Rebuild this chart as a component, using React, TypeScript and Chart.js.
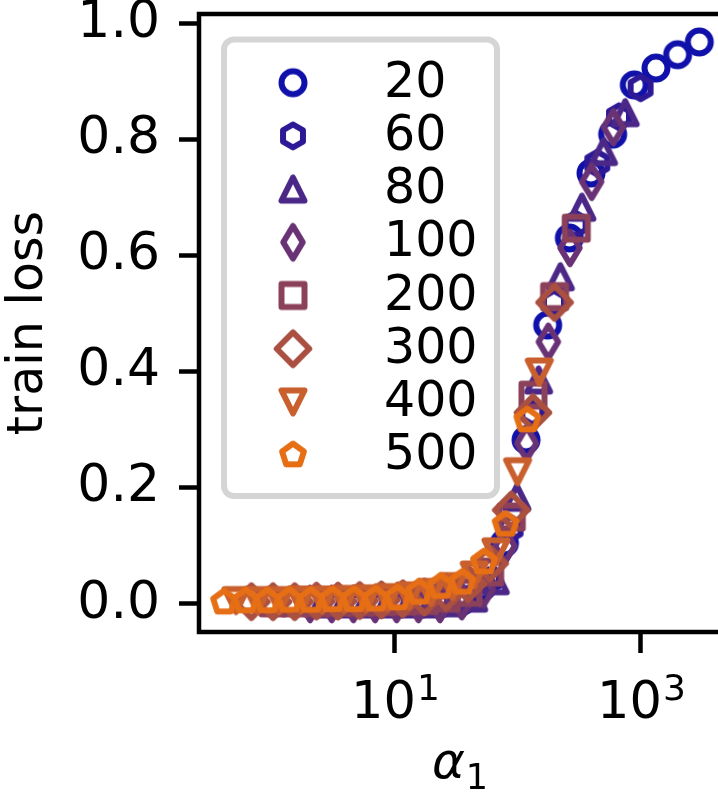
import { useEffect, useRef } from 'react';
import { Chart, registerables } from 'chart.js';

Chart.register(...registerables);

// ---- data ----
const seriesLabels = ['20', '60', '80', '100', '200', '300', '400', '500'];
const seriesColors = ['#1010aa', '#2d1996', '#4b2887', '#693275', '#8c415a', '#aa5041', '#c85f2d', '#e66e14'];
const seriesMarkers = ['circle', 'hexagon', 'triangleUp', 'thinDiamond', 'square', 'diamond', 'triangleDown', 'pentagon'];

const alpha20 = [10.2, 15.3, 22.95, 34.4, 51.6, 77.5, 116.2, 174.3, 261.4, 392, 588, 882, 1323, 1985, 2978];
const loss20 = [0.0, 0.0, 0.0, 0.004, 0.03, 0.105, 0.283, 0.481, 0.631, 0.743, 0.81, 0.895, 0.924, 0.947, 0.969];

const alpha60 = [3.4, 5.1, 7.65, 11.5, 17.2, 25.8, 38.7, 58.1, 87.1, 130.7, 196, 294, 441, 662, 993];
const loss60 = [0.0, 0.0, 0.0, 0.0, 0.0, 0.002, 0.008, 0.04, 0.13, 0.33, 0.52, 0.655, 0.76, 0.84, 0.89];

const alpha80 = [2.55, 3.83, 5.74, 8.61, 12.9, 19.4, 29.1, 43.6, 65.4, 98.0, 147, 221, 331, 496, 744];
const loss80 = [0.0, 0.0, 0.0, 0.0, 0.0, 0.0, 0.002, 0.01, 0.04, 0.184, 0.386, 0.564, 0.684, 0.78, 0.847];

const alpha100 = [2.04, 3.06, 4.59, 6.89, 10.3, 15.5, 23.2, 34.9, 52.3, 78.4, 117.6, 176.5, 264.7, 397, 596];
const loss100 = [0.0, 0.0, 0.0, 0.0, 0.0, 0.0, 0.0, 0.005, 0.025, 0.1, 0.277, 0.452, 0.614, 0.728, 0.822];

const alpha200 = [1.02, 1.53, 2.3, 3.44, 5.16, 7.75, 11.6, 17.4, 26.1, 39.2, 58.8, 88.2, 132.3, 198.5, 297.8];
const loss200 = [0.002, 0.002, 0.002, 0.003, 0.003, 0.004, 0.005, 0.006, 0.01, 0.02, 0.055, 0.15, 0.36, 0.53, 0.648];

const alpha300 = [0.68, 1.02, 1.53, 2.3, 3.44, 5.16, 7.75, 11.6, 17.4, 26.1, 39.2, 58.8, 88.2, 132.3, 198.5];
const loss300 = [0.004, 0.004, 0.004, 0.005, 0.005, 0.006, 0.007, 0.009, 0.012, 0.02, 0.035, 0.07, 0.162, 0.33, 0.52];

const alpha400 = [0.51, 0.765, 1.15, 1.72, 2.58, 3.87, 5.81, 8.72, 13.1, 19.6, 29.4, 44.1, 66.2, 99.2, 148.9];
const loss400 = [0.006, 0.006, 0.006, 0.007, 0.007, 0.008, 0.009, 0.011, 0.014, 0.02, 0.03, 0.05, 0.09, 0.228, 0.4];

const alpha500 = [0.408, 0.612, 0.918, 1.38, 2.07, 3.1, 4.65, 6.97, 10.5, 15.7, 23.5, 35.3, 52.9, 79.4, 119.1];
const loss500 = [0.003, 0.005, 0.005, 0.006, 0.006, 0.007, 0.007, 0.008, 0.01, 0.02, 0.03, 0.037, 0.072, 0.137, 0.317];

const seriesAlpha = [alpha20, alpha60, alpha80, alpha100, alpha200, alpha300, alpha400, alpha500];
const seriesLoss = [loss20, loss60, loss80, loss100, loss200, loss300, loss400, loss500];

const xTickValues = [10, 1000];
const xTickBases = ['10', '10'];
const xTickExponents = ['1', '3'];
const yTickValues = [0, 0.2, 0.4, 0.6, 0.8, 1.0];

const xTitleMain = 'α';
const xTitleSub = '1';
const yTitle = 'train loss';

const X_MIN = 0.255;
const X_MAX = 4556;
const Y_MIN = -0.0483;
const Y_MAX = 1.0172;

const FONT = 'DejaVu Sans';

function makeMarker(shape: string, color: string, ms = 23, lw = 6): HTMLCanvasElement {
  const size = 48;
  const c = document.createElement('canvas');
  c.width = size;
  c.height = size;
  const ctx = c.getContext('2d')!;
  ctx.translate(size / 2, size / 2);
  ctx.strokeStyle = color;
  ctx.lineWidth = lw;
  ctx.lineJoin = 'round';
  const h = ms / 2;
  const poly = (pts: number[][]) => {
    pts.forEach(([x, y], i) => (i ? ctx.lineTo(x, y) : ctx.moveTo(x, y)));
    ctx.closePath();
  };
  const regular = (n: number) => {
    const pts: number[][] = [];
    for (let i = 0; i < n; i++) {
      const a = -Math.PI / 2 + (i * 2 * Math.PI) / n;
      pts.push([h * Math.cos(a), h * Math.sin(a)]);
    }
    poly(pts);
  };
  ctx.beginPath();
  const d = h * Math.SQRT2;
  switch (shape) {
    case 'circle': ctx.arc(0, 0, h, 0, 2 * Math.PI); break;
    case 'hexagon': regular(6); break;
    case 'pentagon': regular(5); break;
    case 'triangleUp': poly([[0, -h], [-h, h], [h, h]]); break;
    case 'triangleDown': poly([[0, h], [-h, -h], [h, -h]]); break;
    case 'square': poly([[-h, -h], [h, -h], [h, h], [-h, h]]); break;
    case 'diamond': poly([[0, -d], [d, 0], [0, d], [-d, 0]]); break;
    case 'thinDiamond': poly([[0, -d], [0.6 * d, 0], [0, d], [-0.6 * d, 0]]); break;
  }
  ctx.stroke();
  return c;
}

const spinePlugin = {
  id: 'spines',
  afterDatasetsDraw(chart: any) {
    const { ctx, chartArea } = chart;
    ctx.save();
    ctx.strokeStyle = '#000';
    ctx.lineWidth = 4.5;
    ctx.strokeRect(chartArea.left, chartArea.top, chartArea.right - chartArea.left, chartArea.bottom - chartArea.top);
    ctx.restore();
  },
};

// x tick labels (10 with raised exponent) and x title (alpha with subscript)
const xTextPlugin = {
  id: 'xText',
  afterDraw(chart: any) {
    const { ctx, chartArea } = chart;
    const xs = chart.scales.x;
    ctx.save();
    ctx.fillStyle = '#000';
    ctx.textBaseline = 'alphabetic';
    ctx.textAlign = 'left';
    const baseFont = `51px "${FONT}"`;
    const expFont = `36px "${FONT}"`;
    xTickValues.forEach((v, i) => {
      const px = xs.getPixelForValue(v);
      ctx.font = baseFont;
      const wb = ctx.measureText(xTickBases[i]).width;
      ctx.font = expFont;
      const we = ctx.measureText(xTickExponents[i]).width;
      const x0 = px - (wb + we) / 2;
      const base = chartArea.bottom + 86;
      ctx.font = baseFont;
      ctx.fillText(xTickBases[i], x0, base);
      ctx.font = expFont;
      ctx.fillText(xTickExponents[i], x0 + wb + 1, base - 18);
    });

    const cx = (chartArea.left + chartArea.right) / 2 - 1;
    const mainFont = `italic 50px "${FONT}"`;
    const subFont = `35px "${FONT}"`;
    ctx.font = mainFont;
    const w1 = ctx.measureText(xTitleMain).width;
    ctx.font = subFont;
    const w2 = ctx.measureText(xTitleSub).width;
    const x0 = cx - (w1 + w2) / 2;
    const base = chartArea.bottom + 146;
    ctx.font = mainFont;
    ctx.fillText(xTitleMain, x0, base);
    ctx.font = subFont;
    ctx.fillText(xTitleSub, x0 + w1 + 1, base + 11);
    ctx.restore();
  },
};

const legendPlugin = {
  id: 'insideLegend',
  afterDraw(chart: any) {
    const { ctx, chartArea } = chart;
    const ds = chart.data.datasets;
    const left = chartArea.left + 25;
    const top = chartArea.top + 25.5;
    const w = 273;
    const h = 456.5;
    ctx.save();
    ctx.beginPath();
    ctx.roundRect(left, top, w, h, 10);
    ctx.fillStyle = 'rgba(255,255,255,0.85)';
    ctx.fill();
    ctx.lineWidth = 6;
    ctx.strokeStyle = '#d5d5d5';
    ctx.stroke();
    const rowH = 53.2;
    const firstY = top + 43.2;
    ctx.font = `49px "${FONT}"`;
    ctx.fillStyle = '#000';
    ctx.textAlign = 'left';
    ctx.textBaseline = 'alphabetic';
    ds.forEach((d: any, i: number) => {
      const y = firstY + i * rowH;
      const img = d.pointStyle as HTMLCanvasElement;
      ctx.drawImage(img, left + 69 - img.width / 2, y - img.height / 2);
      ctx.fillText(d.label, left + 160, y + 14);
    });
    ctx.restore();
  },
};

export default function App() {
  const ref = useRef<HTMLCanvasElement | null>(null);
  useEffect(() => {
    document.body.style.margin = '0';
    const canvas = ref.current!;
    const datasets = seriesLabels.map((label, i) => ({
      label,
      data: seriesAlpha[i].map((x, j) => ({ x, y: seriesLoss[i][j] })),
      pointStyle: makeMarker(seriesMarkers[i], seriesColors[i]),
      pointRadius: 11,
      pointHoverRadius: 11,
      borderColor: seriesColors[i],
      backgroundColor: seriesColors[i],
      showLine: false,
      order: seriesLabels.length - i,
    }));
    const chart = new Chart(canvas, {
      type: 'scatter',
      data: { datasets },
      plugins: [spinePlugin, xTextPlugin, legendPlugin],
      options: {
        animation: false,
        responsive: false,
        devicePixelRatio: 1,
        events: [],
        layout: { padding: { left: 0, top: 14, right: 4, bottom: 0 }, autoPadding: false },
        plugins: { legend: { display: false }, tooltip: { enabled: false } },
        scales: {
          x: {
            type: 'logarithmic',
            position: 'bottom',
            min: X_MIN,
            max: X_MAX,
            afterBuildTicks: (s: any) => {
              s.ticks = xTickValues.map((v) => ({ value: v }));
            },
            afterFit: (s: any) => {
              s.height = 161;
              s.paddingLeft = 0;
              s.paddingRight = 0;
            },
            ticks: { display: false, autoSkip: false },
            grid: { display: true, drawOnChartArea: false, drawTicks: true, tickLength: 21, tickWidth: 4.5, tickColor: '#000' },
            border: { display: false },
            title: { display: false },
          },
          y: {
            type: 'linear',
            min: Y_MIN,
            max: Y_MAX,
            afterBuildTicks: (s: any) => {
              s.ticks = yTickValues.map((v) => ({ value: v }));
            },
            afterFit: (s: any) => {
              s.width = 199;
              s.paddingTop = 0;
              s.paddingBottom = 0;
            },
            ticks: {
              callback: (v: any) => Number(v).toFixed(1),
              font: { family: FONT, size: 52 },
              color: '#000',
              padding: 19,
              autoSkip: false,
            },
            grid: { display: true, drawOnChartArea: false, drawTicks: true, tickLength: 20, tickWidth: 4.5, tickColor: '#000' },
            border: { display: false },
            title: { display: true, text: yTitle, font: { family: FONT, size: 49 }, color: '#000', padding: { top: 0, bottom: 0 } },
          },
        },
      } as any,
    });
    return () => chart.destroy();
  }, []);
  return (
    <div style={{ width: 718, height: 793, overflow: 'hidden', position: 'relative' }}>
      <canvas ref={ref} width={726} height={793} style={{ display: 'block', width: 726, height: 793 }} />
    </div>
  );
}
